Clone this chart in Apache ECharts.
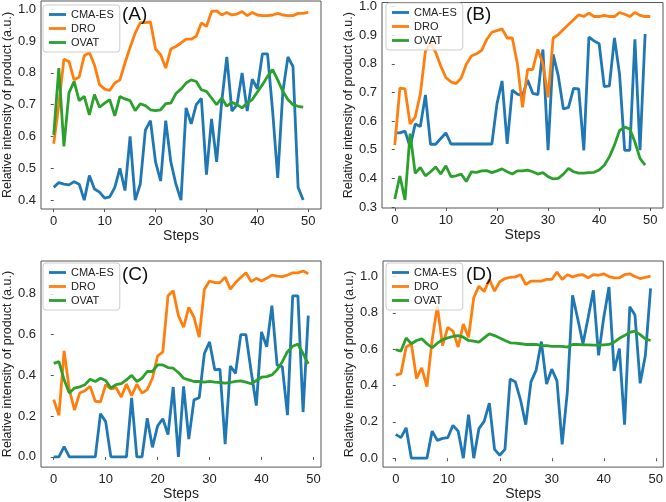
<!DOCTYPE html>
<html>
<head>
<meta charset="utf-8">
<script src="https://cdn.jsdelivr.net/npm/echarts@6/dist/echarts.min.js"></script>
<style>
  html, body { margin: 0; padding: 0; background: #fff; }
  #chart { width: 666px; height: 502px; }
</style>
</head>
<body>
<div id="chart"></div>
<script>
// series names and panel tags
var names = ['CMA-ES', 'DRO', 'OVAT'];
var panels = ['(A)', '(B)', '(C)', '(D)'];
var xTicks = [0, 10, 20, 30, 40, 50];
var yTicksA = [0.4, 0.5, 0.6, 0.7, 0.8, 0.9, 1.0];
var yTicksB = [0.3, 0.4, 0.5, 0.6, 0.7, 0.8, 0.9, 1.0];
var yTicksC = [0.0, 0.2, 0.4, 0.6, 0.8];
var yTicksD = [0.0, 0.2, 0.4, 0.6, 0.8, 1.0];

// panel A
var aCma = [0.44, 0.455, 0.45, 0.448, 0.458, 0.45, 0.40, 0.477, 0.435, 0.425, 0.406, 0.41, 0.44, 0.50, 0.43, 0.60, 0.40, 0.45, 0.62, 0.65, 0.52, 0.46, 0.65, 0.52, 0.45, 0.40, 0.69, 0.64, 0.70, 0.72, 0.48, 0.655, 0.52, 0.71, 0.85, 0.68, 0.70, 0.80, 0.68, 0.78, 0.75, 0.86, 0.86, 0.68, 0.47, 0.74, 0.85, 0.82, 0.44, 0.40];
var aDro = [0.577, 0.70, 0.843, 0.836, 0.778, 0.787, 0.854, 0.864, 0.825, 0.763, 0.749, 0.745, 0.768, 0.778, 0.831, 0.88, 0.925, 0.958, 0.958, 0.96, 0.875, 0.857, 0.815, 0.875, 0.883, 0.894, 0.906, 0.906, 0.915, 0.957, 0.946, 0.993, 0.995, 0.982, 0.99, 0.982, 0.985, 0.993, 0.98, 0.99, 0.982, 0.98, 0.98, 0.982, 0.987, 0.982, 0.98, 0.98, 0.987, 0.987, 0.99];
var aOvat = [0.605, 0.815, 0.569, 0.738, 0.773, 0.713, 0.726, 0.668, 0.732, 0.692, 0.705, 0.716, 0.665, 0.726, 0.718, 0.713, 0.681, 0.703, 0.697, 0.684, 0.681, 0.684, 0.703, 0.705, 0.735, 0.749, 0.768, 0.778, 0.773, 0.747, 0.742, 0.721, 0.70, 0.721, 0.695, 0.708, 0.70, 0.69, 0.705, 0.716, 0.74, 0.763, 0.789, 0.81, 0.778, 0.742, 0.716, 0.70, 0.695, 0.692];

// panel B
var bCma = [0.559, 0.559, 0.565, 0.51, 0.59, 0.581, 0.691, 0.519, 0.519, 0.539, 0.559, 0.52, 0.52, 0.52, 0.52, 0.52, 0.52, 0.52, 0.52, 0.52, 0.66, 0.74, 0.52, 0.708, 0.694, 0.689, 0.743, 0.697, 0.692, 0.85, 0.498, 0.833, 0.758, 0.642, 0.648, 0.714, 0.712, 0.498, 0.893, 0.88, 0.87, 0.72, 0.723, 0.89, 0.763, 0.498, 0.498, 0.885, 0.498, 0.904];
var bDro = [0.516, 0.715, 0.712, 0.59, 0.614, 0.694, 0.844, 0.873, 0.84, 0.792, 0.752, 0.737, 0.731, 0.75, 0.798, 0.827, 0.835, 0.847, 0.885, 0.91, 0.916, 0.922, 0.89, 0.89, 0.80, 0.648, 0.78, 0.78, 0.85, 0.80, 0.683, 0.89, 0.902, 0.92, 0.937, 0.954, 0.971, 0.965, 0.977, 0.965, 0.965, 0.969, 0.965, 0.965, 0.979, 0.973, 0.965, 0.979, 0.969, 0.965, 0.965];
var bOvat = [0.328, 0.408, 0.325, 0.556, 0.418, 0.438, 0.409, 0.423, 0.44, 0.415, 0.444, 0.406, 0.409, 0.415, 0.389, 0.423, 0.421, 0.426, 0.427, 0.42, 0.426, 0.433, 0.423, 0.415, 0.426, 0.426, 0.429, 0.423, 0.415, 0.42, 0.406, 0.398, 0.40, 0.415, 0.435, 0.423, 0.418, 0.418, 0.42, 0.421, 0.429, 0.446, 0.475, 0.516, 0.567, 0.579, 0.573, 0.527, 0.47, 0.446];

// panel C
var cCma = [0, 0, 0.05, 0, 0, 0, 0, 0, 0, 0.212, 0.173, 0, 0, 0, 0, 0.29, 0, 0, 0.19, 0.047, 0.152, 0.187, 0.11, 0.343, 0, 0.346, 0.087, 0.28, 0.29, 0.507, 0.564, 0.427, 0.43, 0.063, 0.446, 0.41, 0.60, 0.60, 0.42, 0.252, 0.613, 0.54, 0.742, 0.45, 0.443, 0.205, 0.79, 0.79, 0.22, 0.693];
var cDro = [0.281, 0.204, 0.52, 0.33, 0.23, 0.313, 0.325, 0.346, 0.273, 0.27, 0.354, 0.333, 0.34, 0.294, 0.357, 0.30, 0.357, 0.313, 0.33, 0.386, 0.495, 0.515, 0.79, 0.815, 0.693, 0.637, 0.734, 0.685, 0.588, 0.823, 0.863, 0.855, 0.855, 0.882, 0.823, 0.855, 0.88, 0.903, 0.86, 0.876, 0.863, 0.876, 0.892, 0.887, 0.884, 0.892, 0.903, 0.903, 0.912, 0.899];
var cOvat = [0.459, 0.467, 0.378, 0.314, 0.338, 0.343, 0.354, 0.381, 0.37, 0.386, 0.375, 0.338, 0.354, 0.359, 0.378, 0.40, 0.37, 0.386, 0.419, 0.419, 0.451, 0.451, 0.438, 0.435, 0.414, 0.386, 0.378, 0.37, 0.37, 0.367, 0.37, 0.367, 0.365, 0.362, 0.365, 0.37, 0.373, 0.367, 0.359, 0.375, 0.391, 0.394, 0.402, 0.427, 0.467, 0.516, 0.543, 0.553, 0.507, 0.456];

// panel D
var dCma = [0.131, 0.113, 0.167, 0, 0, 0, 0, 0.149, 0.098, 0.109, 0.113, 0.181, 0.149, 0, 0.24, 0, 0.163, 0.203, 0.303, 0.049, 0.016, 0.049, 0.436, 0.42, 0.32, 0.185, 0.42, 0.485, 0.642, 0.408, 0.49, 0.426, 0.076, 0.367, 0.897, 0.766, 0.63, 0.775, 0.924, 0.566, 0.775, 0.942, 0.481, 0.603, 0.185, 0.833, 0.788, 0.412, 0.566, 0.935];
var dDro = [0.457, 0.466, 0.612, 0.63, 0.439, 0.497, 0.394, 0.65, 0.838, 0.62, 0.72, 0.70, 0.612, 0.739, 0.666, 0.884, 0.947, 0.917, 0.984, 0.92, 0.971, 0.989, 0.996, 0.998, 1.01, 0.956, 0.975, 0.975, 0.975, 0.984, 0.984, 1.025, 0.984, 1.01, 0.998, 1.007, 1.01, 0.993, 1.01, 1.007, 1.015, 1.0, 0.993, 0.993, 1.01, 1.015, 1.0, 0.989, 0.996, 1.002];
var dOvat = [0.597, 0.59, 0.662, 0.63, 0.648, 0.657, 0.63, 0.608, 0.633, 0.652, 0.662, 0.67, 0.675, 0.666, 0.648, 0.644, 0.639, 0.662, 0.684, 0.675, 0.662, 0.648, 0.635, 0.633, 0.63, 0.626, 0.626, 0.626, 0.62, 0.62, 0.615, 0.615, 0.615, 0.612, 0.626, 0.626, 0.624, 0.624, 0.622, 0.622, 0.624, 0.626, 0.639, 0.66, 0.675, 0.693, 0.699, 0.68, 0.657, 0.648];

var colors = ['#1f77b4', '#ff7f0e', '#2ca02c'];
var font = 'Liberation Sans, Arial, sans-serif';

// layout of each panel: grid box, axis ranges, tick values, legend and tag position
var layout = [
    { left: 39, top: 1, width: 282, height: 208, xMin: -2.5, xMax: 52.5, yMin: 0.372, yMax: 1.026, yTicks: yTicksA, lx: 43, ly: 5, tx: 122, ty: 5, data: [aCma, aDro, aOvat] },
    { left: 382, top: 1, width: 281, height: 207, xMin: -2.5, xMax: 52.5, yMin: 0.2965, yMax: 1.014, yTicks: yTicksB, lx: 386, ly: 3, tx: 466, ty: 5, data: [bCma, bDro, bOvat] },
    { left: 39, top: 261, width: 282, height: 208, xMin: -2.45, xMax: 51.45, yMin: -0.05, yMax: 0.961, yTicks: yTicksC, lx: 43, ly: 263, tx: 122, ty: 265, data: [cCma, cDro, cOvat] },
    { left: 383, top: 261, width: 281, height: 208, xMin: -2.45, xMax: 51.45, yMin: -0.049, yMax: 1.0855, yTicks: yTicksD, lx: 386, ly: 263, tx: 466, ty: 265, data: [dCma, dDro, dOvat] }
];

var grids = [], xAxes = [], yAxes = [], series = [], legends = [], titles = [];

layout.forEach(function(p, k) {
    grids.push({
        left: p.left, top: p.top, width: p.width, height: p.height,
        show: true, borderColor: '#555', borderWidth: 1, backgroundColor: '#fff'
    });
    xAxes.push({
        type: 'value', gridIndex: k, min: p.xMin, max: p.xMax,
        name: 'Steps', nameLocation: 'middle', nameGap: 19,
        nameTextStyle: { fontFamily: font, fontSize: 14, color: '#222' },
        axisLine: { show: false },
        axisTick: { show: true, length: 3, customValues: xTicks, lineStyle: { color: '#555' } },
        axisLabel: { customValues: xTicks, fontFamily: font, fontSize: 13, color: '#222', margin: 6 },
        splitLine: { show: false }
    });
    yAxes.push({
        type: 'value', gridIndex: k, min: p.yMin, max: p.yMax,
        name: 'Relative intensity of product (a.u.)', nameLocation: 'middle', nameGap: 27,
        nameTextStyle: { fontFamily: font, fontSize: 12.5, color: '#222' },
        axisLine: { show: false },
        axisTick: { show: true, length: 3, customValues: p.yTicks, lineStyle: { color: '#555' } },
        axisLabel: {
            customValues: p.yTicks, fontFamily: font, fontSize: 13, color: '#222', margin: 5,
            formatter: function(v) { return v.toFixed(1); }
        },
        splitLine: { show: false }
    });
    p.data.forEach(function(vals, s) {
        series.push({
            name: names[s],
            type: 'line',
            xAxisIndex: k,
            yAxisIndex: k,
            data: vals.map(function(v, i) { return [i, v]; }),
            showSymbol: false,
            symbol: 'none',
            color: colors[s],
            lineStyle: { width: 2.8, color: colors[s] },
            animation: false
        });
    });
    legends.push({
        data: names, orient: 'vertical', left: p.lx, top: p.ly,
        icon: 'rect', itemWidth: 17, itemHeight: 2.8, itemGap: 1,
        padding: [3, 6, 3, 6],
        backgroundColor: 'rgba(255,255,255,0.8)', borderColor: '#ccc', borderWidth: 1, borderRadius: 3,
        textStyle: { fontFamily: font, fontSize: 11, color: '#222', lineHeight: 13 }
    });
    titles.push({
        text: panels[k], left: p.tx, top: p.ty, padding: 0,
        textStyle: { fontFamily: font, fontSize: 19, fontWeight: 'normal', color: '#111' }
    });
});

var myChart = echarts.init(document.getElementById('chart'));
myChart.setOption({
    animation: false,
    title: titles,
    legend: legends,
    grid: grids,
    xAxis: xAxes,
    yAxis: yAxes,
    series: series
});
</script>
</body>
</html>
